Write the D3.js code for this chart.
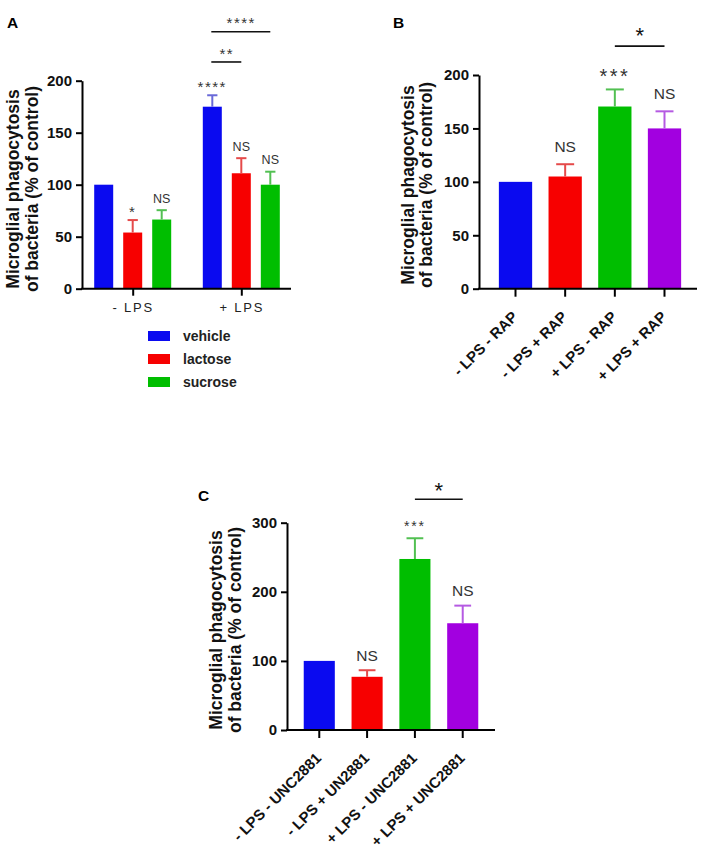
<!DOCTYPE html>
<html><head><meta charset="utf-8">
<script src="https://cdn.jsdelivr.net/npm/d3@7"></script>
<style>
body{margin:0;background:#fff}
svg{display:block}
text{font-family:Arial,"Liberation Sans",sans-serif}
</style>
</head><body><svg id="c" width="709" height="854"></svg>
<script>
// ---------- DATA ----------
const aGroups = ["- LPS", "+ LPS"];
const aSeries = ["vehicle", "lactose", "sucrose"];
const aMeans = [[100, 54, 66.5], [175, 111, 100]];
const aSem = [[0, 12, 9], [11, 14.5, 12.5]];
const aMarks = [["", "*", "NS"], ["****", "NS", "NS"]];
const aTicks = [0, 50, 100, 150, 200];

const bCats = ["- LPS - RAP", "- LPS + RAP", "+ LPS - RAP", "+ LPS + RAP"];
const bMeans = [100, 105, 170.5, 150];
const bSem = [0, 11.5, 16, 16];
const bMarks = ["", "NS", "***", "NS"];
const bTicks = [0, 50, 100, 150, 200];

const cCats = ["- LPS - UNC2881", "- LPS + UN2881", "+ LPS - UNC2881", "+ LPS + UNC2881"];
const cMeans = [100, 77, 247.5, 154.5];
const cSem = [0, 9.5, 30, 25.5];
const cMarks = ["", "NS", "***", "NS"];
const cTicks = [0, 100, 200, 300];

const barColors = ["#0a0af0", "#f70000", "#00be00", "#a200e0"];
const errColors = ["#6a6ad8", "#e54a4a", "#52c052", "#b55ae2"];
const yLabel = ["Microglial phagocytosis", "of bacteria (% of control)"];

// ---------- HELPERS ----------
const svg = d3.select("#c");
const FONT_TICK = 15, FONT_YLAB = 17.5;

function mark(g, txt, x, cy, f, fill, ls) {
  if (!txt) return;
  const star = txt.indexOf("*") >= 0;
  g.append("text").attr("x", x).attr("y", cy + (star ? 0.58 : 0.36) * f)
    .attr("text-anchor", "middle").attr("font-size", f)
    .attr("letter-spacing", ls || 0)
    .attr("fill", fill).text(txt);
}

function yAxis(g, y, ticks, axisX) {
  const ax = g.append("g").attr("transform", `translate(${axisX},0)`)
    .call(d3.axisLeft(y).tickValues(ticks).tickSize(6).tickSizeOuter(0).tickPadding(4));
  ax.selectAll("path,line").attr("stroke", "#000").attr("stroke-width", 2);
  ax.selectAll("text").attr("font-size", FONT_TICK).attr("font-weight", "bold").attr("fill", "#111");
}

function yTitle(g, x1, x2, cy) {
  const f = FONT_YLAB;
  [x1, x2].forEach((x, i) => {
    g.append("text").attr("transform", `translate(${x + 0.33 * f},${cy}) rotate(-90)`)
      .attr("text-anchor", "middle").attr("font-size", f).attr("font-weight", "bold")
      .attr("fill", "#111").text(yLabel[i]);
  });
}

function errBar(g, cx, y, mean, sem, bw, col) {
  if (!sem) return;
  g.append("line").attr("x1", cx).attr("x2", cx).attr("y1", y(mean)).attr("y2", y(mean + sem))
    .attr("stroke", col).attr("stroke-width", 2);
  g.append("line").attr("x1", cx - bw * 0.27).attr("x2", cx + bw * 0.27)
    .attr("y1", y(mean + sem)).attr("y2", y(mean + sem)).attr("stroke", col).attr("stroke-width", 2);
}

function bracket(g, x1, x2, yy) {
  g.append("line").attr("x1", x1).attr("x2", x2).attr("y1", yy).attr("y2", yy)
    .attr("stroke", "#111").attr("stroke-width", 1.6);
}

// ---------- PANEL A ----------
(function () {
  const g = svg.append("g");
  const axisX = 82, xEnd = 291;
  const y = d3.scaleLinear().domain([0, 200]).range([288.7, 80.7]);
  const x0 = d3.scalePoint().domain(aGroups).range([78.4, 295.6]).padding(0.5);
  const x1 = d3.scaleBand().domain(aSeries).range([-38.5, 38.5]).paddingInner(0.345);
  const bw = x1.bandwidth();

  aGroups.forEach((grp, gi) => {
    aSeries.forEach((s, si) => {
      const cx = x0(grp) + x1(s) + bw / 2;
      const v = aMeans[gi][si];
      g.append("rect").attr("x", x0(grp) + x1(s)).attr("width", bw)
        .attr("y", y(v)).attr("height", y(0) - y(v)).attr("fill", barColors[si]);
      errBar(g, cx, y, v, aSem[gi][si], bw, errColors[si]);
      const m = aMarks[gi][si];
      const top = y(v + aSem[gi][si]);
      if (m) mark(g, m, cx, top - 12, m.includes("*") ? 15 : 12.5, "#333", m.includes("*") ? 1.5 : 0);
    });
  });
  yAxis(g, y, aTicks, axisX);
  const xa = g.append("g").attr("transform", `translate(0,${y(0)})`)
    .call(d3.axisBottom(x0).tickSize(7).tickSizeOuter(0).tickPadding(7));
  xa.select(".domain").remove();
  xa.append("line").attr("x1", axisX - 1).attr("x2", xEnd).attr("stroke", "#000").attr("stroke-width", 2);
  xa.selectAll(".tick line").attr("stroke", "#000").attr("stroke-width", 2);
  xa.selectAll("text").attr("font-size", 13).attr("letter-spacing", 1.8).attr("fill", "#222");

  const cxOf = (gi, si) => x0(aGroups[gi]) + x1(aSeries[si]) + bw / 2;
  bracket(g, cxOf(1, 0) - 1, cxOf(1, 1), y(218));
  mark(g, "**", (cxOf(1, 0) + cxOf(1, 1)) / 2, y(229), 15, "#333", 1.5);
  bracket(g, cxOf(1, 0) - 1, cxOf(1, 2), y(247));
  mark(g, "****", (cxOf(1, 0) + cxOf(1, 2)) / 2, y(259), 15, "#333", 1.5);

  yTitle(g, 13, 32.5, 189);
  g.append("text").attr("x", 7).attr("y", 28.3).attr("font-size", 15.5).attr("font-weight", "bold").text("A");

  aSeries.forEach((s, i) => {
    const ly = 331 + i * 23;
    g.append("rect").attr("x", 148).attr("y", ly).attr("width", 22).attr("height", 10).attr("fill", barColors[i]);
    g.append("text").attr("x", 183).attr("y", ly + 10).attr("font-size", 14).attr("font-weight", "bold")
      .attr("fill", "#222").text(s);
  });
})();

// ---------- PANELS B & C ----------
function simplePanel(o) {
  const g = svg.append("g");
  const y = d3.scaleLinear().domain([0, o.ticks[o.ticks.length - 1]]).range([o.y0, o.yTop]);
  const x = d3.scaleBand().domain(o.cats).range(o.xRange).paddingInner(o.pi).paddingOuter(o.po);
  const bw = x.bandwidth();
  o.cats.forEach((c, i) => {
    const v = o.means[i], cx = x(c) + bw / 2;
    g.append("rect").attr("x", x(c)).attr("width", bw).attr("y", y(v)).attr("height", y(0) - y(v))
      .attr("fill", barColors[i]);
    errBar(g, cx, y, v, o.sem[i], bw, errColors[i]);
    const m = o.marks[i];
    if (m) {
      const star = m.includes("*");
      mark(g, m, cx, y(v + o.sem[i]) - o.markOff, star ? o.starF : o.nsF, "#333", star ? o.starLs : 0);
    }
  });
  yAxis(g, y, o.ticks, o.axisX);
  const xa = g.append("g").attr("transform", `translate(0,${y(0)})`)
    .call(d3.axisBottom(x).tickSize(8).tickSizeOuter(0));
  xa.select(".domain").remove();
  xa.append("line").attr("x1", o.axisX - 1).attr("x2", o.xEnd).attr("stroke", "#000").attr("stroke-width", 2);
  xa.selectAll(".tick line").attr("stroke", "#000").attr("stroke-width", 2);
  xa.selectAll(".tick text").attr("font-size", FONT_TICK).attr("font-weight", "bold").attr("fill", "#111")
    .attr("text-anchor", "end").attr("y", 0).attr("dy", 0)
    .attr("transform", "translate(3,29) rotate(-45)");
  const c1 = x(o.cats[2]) + bw / 2, c2 = x(o.cats[3]) + bw / 2;
  bracket(g, c1, c2, y(o.brVal));
  mark(g, "*", (c1 + c2) / 2, y(o.brVal) - o.brOff, o.brF, "#111", 0);
  yTitle(g, o.lab1, o.lab2, o.labCy);
  g.append("text").attr("x", o.letterX).attr("y", o.letterY).attr("font-size", 15.5)
    .attr("font-weight", "bold").text(o.letter);
}

simplePanel({
  cats: bCats, means: bMeans, sem: bSem, marks: bMarks, ticks: bTicks,
  y0: 288.7, yTop: 75, xRange: [479, 701], pi: 0.33, po: 0.4, axisX: 479, xEnd: 697,
  markOff: 18, starF: 20, starLs: 2.5, nsF: 15.5, brVal: 227, brOff: 16, brF: 22,
  lab1: 408, lab2: 426.5, labCy: 185, letter: "B", letterX: 393, letterY: 28.3
});
simplePanel({
  cats: cCats, means: cMeans, sem: cSem, marks: cMarks, ticks: cTicks,
  y0: 730, yTop: 522.7, xRange: [287, 495], pi: 0.35, po: 0.35, axisX: 287, xEnd: 495,
  markOff: 15, starF: 14, starLs: 1.8, nsF: 15.5, brVal: 334, brOff: 14, brF: 22,
  lab1: 216, lab2: 235, labCy: 630, letter: "C", letterX: 198, letterY: 501
});
</script>
</body></html>
